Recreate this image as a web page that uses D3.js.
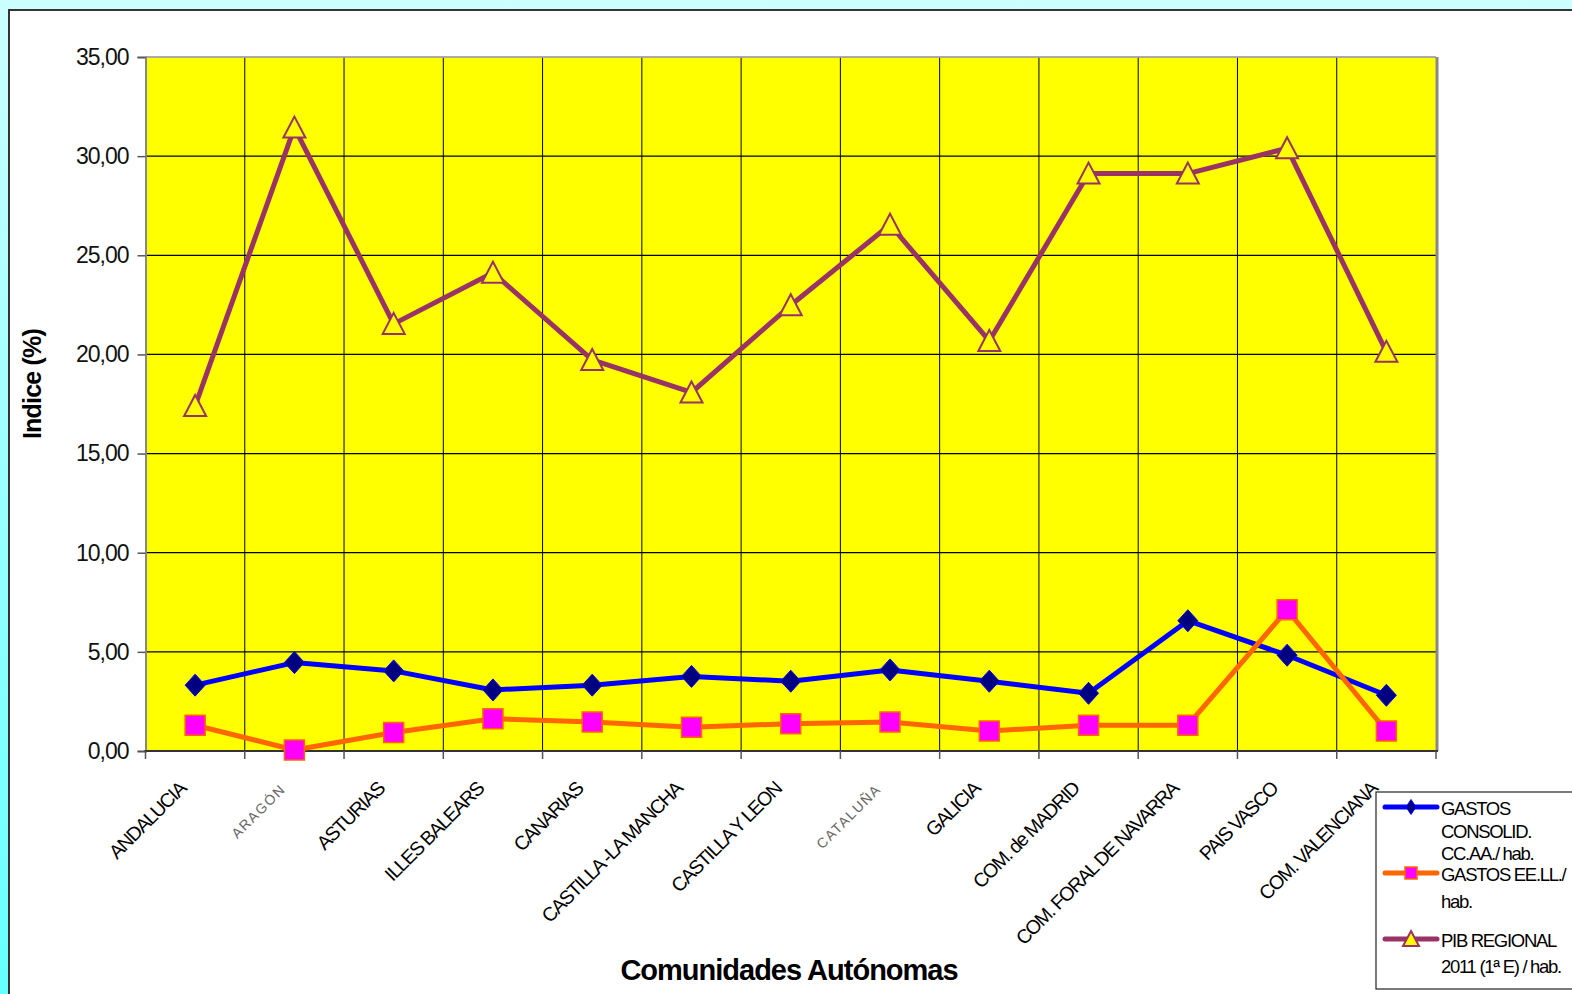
<!DOCTYPE html>
<html>
<head>
<meta charset="utf-8">
<script src="https://cdn.jsdelivr.net/npm/d3@7"></script>
<style>
  html, body { margin: 0; padding: 0; background: #fff; }
  svg { display: block; }
  text { font-family: "Liberation Sans", Arial, sans-serif; }
</style>
</head>
<body>
<svg id="chart" width="1572" height="994"></svg>
<script>
// Comunidades autónomas (x categories)
const categories = [
  "ANDALUCIA", "ARAGÓN", "ASTURIAS", "ILLES BALEARS", "CANARIAS",
  "CASTILLA -LA MANCHA", "CASTILLA Y LEON", "CATALUÑA", "GALICIA",
  "COM. de MADRID", "COM. FORAL DE NAVARRA", "PAIS VASCO", "COM. VALENCIANA"
];
// Labels that are printed in the lighter, spaced type
const lightLabels = ["ARAGÓN", "CATALUÑA"];

// Series values (índice, %)
const gastosCCAA  = [3.32, 4.46, 4.04, 3.08, 3.32, 3.76, 3.52, 4.09, 3.52, 2.91, 6.57, 4.83, 2.81];
const gastosEELL  = [1.30, 0.05, 0.93, 1.63, 1.46, 1.20, 1.38, 1.46, 1.01, 1.30, 1.30, 7.12, 1.01];
const pibRegional = [17.40, 31.44, 21.54, 24.12, 19.72, 18.08, 22.48, 26.54, 20.68, 29.12, 29.12, 30.40, 20.13];

const yTicks = [0, 5, 10, 15, 20, 25, 30, 35];

const seriesNames = [
  ["GASTOS", "CONSOLID.", "CC.AA./ hab."],
  ["GASTOS EE.LL./", "hab."],
  ["PIB REGIONAL", "2011 (1ª E) / hab."]
];

const svg = d3.select("#chart");
const W = 1572, H = 994;

// page background with soft cyan gradient
const defs = svg.append("defs");
const grad = defs.append("linearGradient").attr("id", "bg").attr("x1", 0).attr("y1", 0).attr("x2", 0).attr("y2", 1);
grad.append("stop").attr("offset", "0%").attr("stop-color", "#CCFFFF");
grad.append("stop").attr("offset", "100%").attr("stop-color", "#66FFFF");
svg.append("rect").attr("width", W).attr("height", H).attr("fill", "url(#bg)");

// chart panel
svg.append("rect").attr("x", 9).attr("y", 10).attr("width", W + 20).attr("height", H + 20)
  .attr("fill", "#fff").attr("stroke", "#333").attr("stroke-width", 2);

const plot = { left: 145.5, right: 1436, top: 57, bottom: 751 };

const x = d3.scaleBand().domain(categories).range([plot.left, plot.right]);
const y = d3.scaleLinear().domain([0, 35]).range([plot.bottom, plot.top]);
const cx = c => x(c) + x.bandwidth() / 2;

const locale = d3.formatLocale({ decimal: ",", thousands: ".", grouping: [3], currency: ["", "€"] });
const fmt = locale.format(".2f");

// plot area
svg.append("rect").attr("x", plot.left).attr("y", plot.top)
  .attr("width", plot.right - plot.left).attr("height", plot.bottom - plot.top)
  .attr("fill", "#FFFF00");

// gridlines
const grid = svg.append("g");
grid.selectAll("line.h").data(yTicks.filter(t => t > 0)).join("line")
  .attr("x1", plot.left).attr("x2", plot.right)
  .attr("y1", d => y(d)).attr("y2", d => y(d))
  .attr("stroke", "#000").attr("stroke-width", 1.2);
const bounds = categories.slice(1).map(c => x(c));
grid.selectAll("line.v").data(bounds).join("line")
  .attr("x1", d => d).attr("x2", d => d)
  .attr("y1", plot.top).attr("y2", plot.bottom)
  .attr("stroke", "#000").attr("stroke-width", 1);

// plot frame
svg.append("line").attr("x1", plot.left).attr("x2", plot.right).attr("y1", plot.top).attr("y2", plot.top)
  .attr("stroke", "#bbb").attr("stroke-width", 1.5);
svg.append("line").attr("x1", plot.right + 1).attr("x2", plot.right + 1).attr("y1", plot.top).attr("y2", plot.bottom)
  .attr("stroke", "#888").attr("stroke-width", 3);

// y axis
const yAxis = d3.axisLeft(y).tickValues(yTicks).tickFormat(fmt).tickSize(8).tickPadding(9);
const gy = svg.append("g").attr("transform", `translate(${plot.left},0)`).call(yAxis);
gy.select(".domain").attr("stroke", "#888").attr("stroke-width", 2);
gy.selectAll(".tick line").attr("stroke", "#555").attr("stroke-width", 1.5);
gy.selectAll(".tick text").attr("font-size", 23).attr("fill", "#111")
  .attr("font-family", "'Liberation Sans', Arial, sans-serif").attr("letter-spacing", -1);

// x axis: ticks at category boundaries
const gx = svg.append("g").attr("transform", `translate(0,${plot.bottom})`);
gx.append("line").attr("x1", plot.left - 1).attr("x2", plot.right + 2)
  .attr("stroke", "#333").attr("stroke-width", 2);
gx.selectAll("line.t").data([plot.left, ...bounds, plot.right]).join("line")
  .attr("x1", d => d).attr("x2", d => d).attr("y1", 0).attr("y2", 8)
  .attr("stroke", "#555").attr("stroke-width", 1.5);

// rotated category labels
svg.append("g").selectAll("text").data(categories).join("text")
  .attr("transform", d => `translate(${cx(d) - 8},${plot.bottom + 39}) rotate(-45)`)
  .attr("text-anchor", "end")
  .attr("font-size", d => lightLabels.includes(d) ? 14 : 19.5)
  .attr("letter-spacing", d => lightLabels.includes(d) ? 1.5 : -1.4)
  .attr("fill", d => lightLabels.includes(d) ? "#666" : "#000")
  .text(d => d);

// axis titles
svg.append("text").attr("transform", "translate(41,384) rotate(-90)")
  .attr("text-anchor", "middle").attr("font-size", 25).attr("font-weight", "bold")
  .attr("letter-spacing", -0.8).text("Indice (%)");
svg.append("text").attr("x", 789).attr("y", 980)
  .attr("text-anchor", "middle").attr("font-size", 29).attr("font-weight", "bold")
  .attr("letter-spacing", -1).text("Comunidades Autónomas");

// series
const series = [
  { values: gastosCCAA, line: "#0000FF", fill: "#000080", stroke: "#0000FF", sw: 1,
    shape: "M0,-11L10,0L0,11L-10,0Z", small: "M0,-7.5L5,0L0,7.5L-5,0Z" },
  { values: gastosEELL, line: "#FF6600", fill: "#FF00FF", stroke: "#FF6600", sw: 1.5,
    shape: "M-10,-10h20v20h-20Z", small: "M-6,-6h12v12h-12Z" },
  { values: pibRegional, line: "#993366", fill: "#FFFF00", stroke: "#993366", sw: 2,
    shape: "M0,-11L11,10L-11,10Z", small: "M0,-8L8,7L-8,7Z" }
];

const line = d3.line().x(d => cx(d.c)).y(d => y(d.v));

series.forEach(s => {
  const pts = categories.map((c, i) => ({ c, v: s.values[i] }));
  const g = svg.append("g");
  g.append("path").datum(pts).attr("d", line)
    .attr("fill", "none").attr("stroke", s.line).attr("stroke-width", 5)
    .attr("stroke-linejoin", "round");
  g.selectAll("path.m").data(pts).join("path")
    .attr("transform", d => `translate(${cx(d.c)},${y(d.v)})`)
    .attr("d", s.shape).attr("fill", s.fill).attr("stroke", s.stroke).attr("stroke-width", s.sw);
});

// legend
const lg = svg.append("g");
lg.append("rect").attr("x", 1376).attr("y", 792).attr("width", 230).attr("height", 197)
  .attr("fill", "#fff").attr("stroke", "#222").attr("stroke-width", 1.2);
const legendRows = [807, 873, 939];
const lineGap = [22.5, 26.5, 26];
series.forEach((s, i) => {
  const ly = legendRows[i];
  lg.append("line").attr("x1", 1385).attr("x2", 1437).attr("y1", ly).attr("y2", ly)
    .attr("stroke", s.line).attr("stroke-width", 5).attr("stroke-linecap", "round");
  lg.append("path").attr("transform", `translate(1411,${ly})`).attr("d", s.small)
    .attr("fill", s.fill).attr("stroke", s.stroke).attr("stroke-width", s.sw);
  seriesNames[i].forEach((t, j) => {
    lg.append("text").attr("x", 1441).attr("y", ly + 8 + j * lineGap[i])
      .attr("font-size", 18.5).attr("letter-spacing", -1.3).attr("fill", "#000").text(t);
  });
});
</script>
</body>
</html>
